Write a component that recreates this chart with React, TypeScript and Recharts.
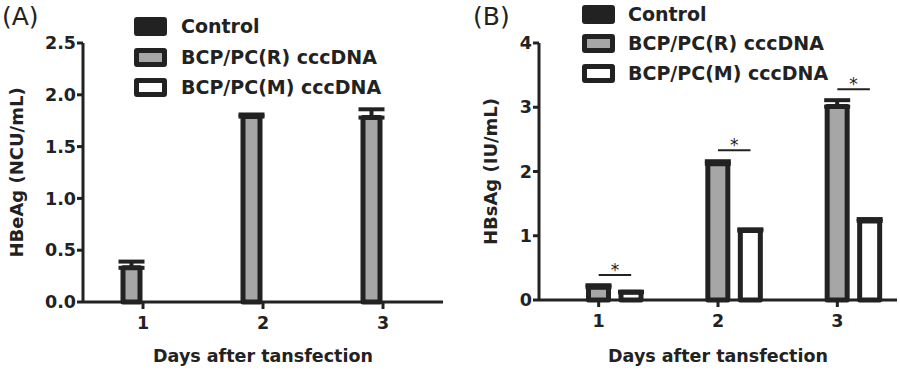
import React from 'react';
import {
  ComposedChart,
  Bar,
  Line,
  ErrorBar,
  XAxis,
  YAxis,
} from 'recharts';

// values
const days = ['1', '2', '3'];
const seriesNames = ['Control', 'BCP/PC(R) cccDNA', 'BCP/PC(M) cccDNA'];

const hbeagR = [0.33, 1.79, 1.78];
const hbeagRErr = [0.06, 0.02, 0.08];
const hbeagM = [null, null, null];
const hbeagTicks = [0, 0.5, 1, 1.5, 2, 2.5];

const hbsagControl = [0, 0, 0];
const hbsagR = [0.2, 2.12, 3.01];
const hbsagRErr = [0.03, 0.04, 0.1];
const hbsagM = [0.12, 1.08, 1.23];
const hbsagMErr = [0.01, 0.02, 0.03];
const hbsagSig = [0.39, 2.33, 3.28];
const hbsagTicks = [0, 1, 2, 3, 4];

const INK = '#222';
const GREY = '#a6a6a6';
const FONT = '"DejaVu Sans", sans-serif';

const hbeagData = days.map((d, i) => ({
  day: d,
  r: hbeagR[i],
  rErr: [0, hbeagRErr[i]],
  m: hbeagM[i],
}));

const hbsagData = days.map((d, i) => ({
  day: d,
  control: hbsagControl[i],
  r: hbsagR[i],
  rErr: [0, hbsagRErr[i]],
  m: hbsagM[i],
  mErr: [0, hbsagMErr[i]],
  sig: hbsagSig[i],
}));

const tickStyle = { fill: INK, fontSize: 17.5, fontWeight: 'bold', fontFamily: FONT };
const axisLine = { stroke: INK, strokeWidth: 3 };
const labelStyle = { fill: INK, fontSize: 18, fontWeight: 'bold', fontFamily: FONT, textAnchor: 'middle' as const };

const fills = [INK, GREY, '#fff'];

const Legend = ({ left, textLeft, tops }: { left: number; textLeft: number; tops: number[] }) => (
  <>
    {seriesNames.map((name, i) => (
      <React.Fragment key={name}>
        <div
          style={{
            position: 'absolute',
            left,
            top: tops[i] - 9.5,
            width: 23,
            height: 9,
            border: `5px solid ${INK}`,
            borderRadius: 3,
            background: fills[i],
          }}
        />
        <div
          style={{
            position: 'absolute',
            left: textLeft,
            top: tops[i] - 9.5,
            fontFamily: FONT,
            fontWeight: 'bold',
            fontSize: 19,
            lineHeight: '19px',
            color: INK,
            whiteSpace: 'nowrap',
          }}
        >
          {name}
        </div>
      </React.Fragment>
    ))}
  </>
);

// significance bracket from the R bar to the M bar, with a star on top
const SigMark = (props: any) => {
  const { cx, cy, index } = props;
  if (cx == null || cy == null) return <g key={index} />;
  const span = 32.5;
  return (
    <g key={index}>
      <line x1={cx} y1={cy} x2={cx + span} y2={cy} stroke={INK} strokeWidth={2} />
      <text
        x={cx + span / 2}
        y={cy + 1}
        textAnchor="middle"
        fontFamily={FONT}
        fontSize={17}
        fill={INK}
      >
        *
      </text>
    </g>
  );
};

const panelTag = (text: string, left: number) => (
  <div
    style={{
      position: 'absolute',
      left,
      top: 3.5,
      fontFamily: FONT,
      fontSize: 25,
      lineHeight: '25px',
      color: INK,
    }}
  >
    {text}
  </div>
);

export default function App() {
  return (
    <div style={{ position: 'absolute', left: 0, top: 0, width: 900, height: 371, background: '#fff' }}>
      <div style={{ position: 'absolute', left: 0, top: 0 }}>
        <ComposedChart
          width={450}
          height={371}
          data={hbeagData}
          margin={{ top: 43, right: 7, left: 0, bottom: 0 }}
          barSize={17}
          barGap={6}
        >
          <XAxis
            dataKey="day"
            height={69}
            axisLine={axisLine}
            tickLine={axisLine}
            tickSize={7}
            tickMargin={8}
            tick={tickStyle}
            label={{ value: 'Days after tansfection', position: 'insideBottom', offset: 9, style: { ...labelStyle, fontSize: 17.5 } }}
          />
          <YAxis
            width={83}
            domain={[0, 2.5]}
            ticks={hbeagTicks}
            tickFormatter={(v: number) => v.toFixed(1)}
            axisLine={axisLine}
            tickLine={axisLine}
            tickSize={6}
            tickMargin={1}
            tick={tickStyle}
            label={{ value: 'HBeAg (NCU/mL)', angle: -90, position: 'insideLeft', offset: 17, style: labelStyle }}
          />
          <Bar dataKey="r" fill={GREY} stroke={INK} strokeWidth={5} strokeLinejoin="round" isAnimationActive={false}>
            <ErrorBar dataKey="rErr" width={13} strokeWidth={4} stroke={INK} />
          </Bar>
          <Bar dataKey="m" fill="#fff" stroke={INK} strokeWidth={5} strokeLinejoin="round" isAnimationActive={false} />
        </ComposedChart>
        {panelTag('(A)', 2)}
        <Legend left={134} textLeft={181} tops={[26, 57, 87.5]} />
      </div>

      <div style={{ position: 'absolute', left: 450, top: 0 }}>
        <ComposedChart
          width={450}
          height={371}
          data={hbsagData}
          margin={{ top: 43, right: 3, left: 0, bottom: 0 }}
          barSize={20}
          barGap={12.5}
        >
          <XAxis
            dataKey="day"
            height={71}
            axisLine={axisLine}
            tickLine={axisLine}
            tickSize={7}
            tickMargin={8}
            tick={tickStyle}
            label={{ value: 'Days after tansfection', position: 'insideBottom', offset: 9, style: { ...labelStyle, fontSize: 17.5 } }}
          />
          <YAxis
            width={89}
            domain={[0, 4]}
            ticks={hbsagTicks}
            axisLine={axisLine}
            tickLine={axisLine}
            tickSize={6}
            tickMargin={1}
            tick={tickStyle}
            label={{ value: 'HBsAg (IU/mL)', angle: -90, position: 'insideLeft', offset: 41, style: labelStyle }}
          />
          <Bar dataKey="control" fill={INK} stroke={INK} strokeWidth={5} isAnimationActive={false} />
          <Bar dataKey="r" fill={GREY} stroke={INK} strokeWidth={5} strokeLinejoin="round" isAnimationActive={false}>
            <ErrorBar dataKey="rErr" width={13} strokeWidth={4} stroke={INK} />
          </Bar>
          <Bar dataKey="m" fill="#fff" stroke={INK} strokeWidth={5} strokeLinejoin="round" isAnimationActive={false}>
            <ErrorBar dataKey="mErr" width={13} strokeWidth={4} stroke={INK} />
          </Bar>
          <Line dataKey="sig" stroke="none" dot={SigMark} activeDot={false} legendType="none" isAnimationActive={false} />
        </ComposedChart>
        <div style={{ position: 'absolute', left: 0, top: 0 }}>
          {panelTag('(B)', 23)}
          <Legend left={132} textLeft={178} tops={[14.5, 43, 73.5]} />
        </div>
      </div>
    </div>
  );
}
